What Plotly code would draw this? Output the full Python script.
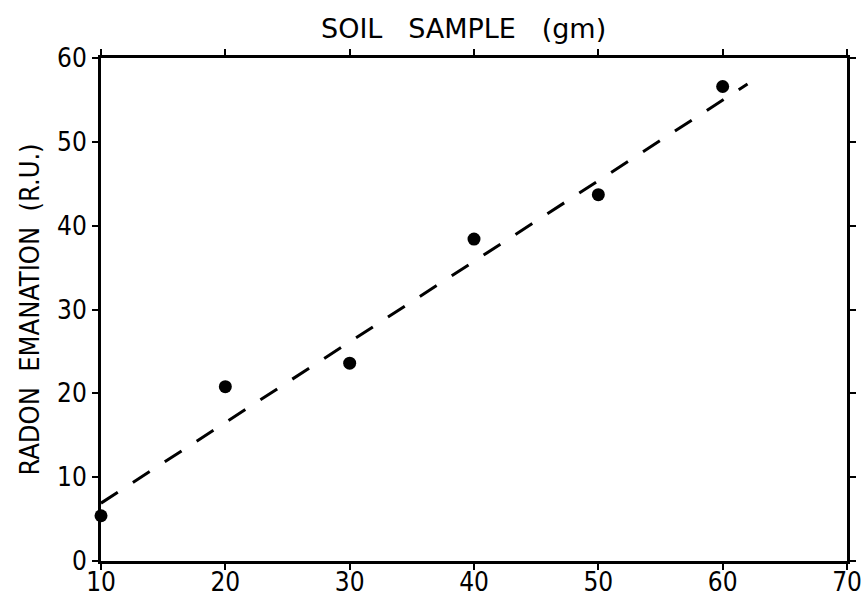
import plotly.graph_objects as go

soil_gm = [10, 20, 30, 40, 50, 60]
radon_ru = [5.4, 20.8, 23.6, 38.4, 43.7, 56.6]

fit_x = [10, 62]
fit_y = [6.9, 56.9]

x_ticks = [10, 20, 30, 40, 50, 60, 70]
x_labels = ["10", "20", "30", "40", "50", "60", "70"]
y_ticks = [0, 10, 20, 30, 40, 50, 60]
y_labels = ["0", "10", "20", "30", "40", "50", "60"]

FONT = "DejaVu Sans Condensed, Liberation Sans Narrow, DejaVu Sans, sans-serif"
FONT_WIDE = "DejaVu Sans, sans-serif"

fig = go.Figure()
fig.add_trace(go.Scatter(
    x=fit_x, y=fit_y, mode="lines",
    line=dict(color="black", width=3, dash="20px,18px"),
    showlegend=False, hoverinfo="skip"))
fig.add_trace(go.Scatter(
    x=soil_gm, y=radon_ru, mode="markers",
    marker=dict(color="black", size=13),
    cliponaxis=False, showlegend=False))

axis_common = dict(
    showline=True, linewidth=3, linecolor="black", mirror="ticks",
    ticks="outside", ticklen=6, tickwidth=2, tickcolor="black",
    showgrid=False, zeroline=False, automargin=False,
    ticklabeloverflow="allow",
    tickfont=dict(family=FONT, size=26, color="black"))

fig.update_xaxes(range=[10, 70], tickvals=x_ticks, ticktext=x_labels,
                 ticklabelstandoff=-10, **axis_common)
fig.update_yaxes(range=[0, 60], tickvals=y_ticks, ticktext=y_labels,
                 title=dict(text="RADON  EMANATION  (R.U.)",
                            font=dict(family=FONT, size=27, color="black"),
                            standoff=10),
                 **axis_common)

fig.add_annotation(
    text="SOIL   SAMPLE   (gm)", xref="paper", yref="paper",
    x=0.486, y=1, xanchor="center", yanchor="bottom", yshift=12,
    showarrow=False, font=dict(family=FONT_WIDE, size=27, color="black"))

fig.update_layout(
    width=862, height=597,
    margin=dict(l=101, r=15, t=58, b=36),
    paper_bgcolor="white", plot_bgcolor="white")

fig.write_html("out.html")
